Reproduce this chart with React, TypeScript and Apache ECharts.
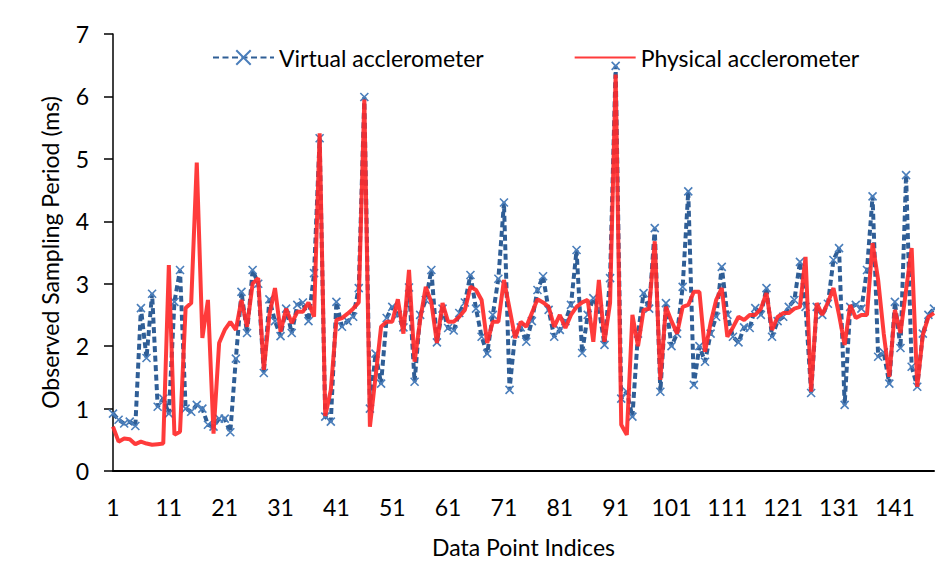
import React, { useEffect, useRef } from "react";
import * as echarts from "echarts";

const categories: string[] = Array.from({ length: 148 }, (_, i) => String(i + 1));

const virtualAccel: number[] = [
  0.92, 0.82, 0.76, 0.79, 0.72, 2.61, 1.81, 2.84, 1.03, 1.16,
  0.92, 2.71, 3.22, 1.0, 0.95, 1.06, 1.0, 0.74, 0.71, 0.84,
  0.84, 0.62, 1.8, 2.87, 2.21, 3.22, 3.0, 1.57, 2.75, 2.4,
  2.16, 2.6, 2.21, 2.66, 2.7, 2.4, 3.17, 5.33, 0.87, 0.79,
  2.71, 2.31, 2.4, 2.47, 2.93, 5.99, 1.0, 1.88, 1.4, 2.45,
  2.63, 2.5, 2.3, 2.94, 1.43, 2.5, 2.74, 3.22, 2.06, 2.6,
  2.29, 2.25, 2.53, 2.7, 3.14, 2.6, 2.15, 1.88, 2.5, 3.08,
  4.3, 1.3, 2.2, 2.3, 2.07, 2.4, 2.9, 3.12, 2.58, 2.15,
  2.26, 2.4, 2.66, 3.54, 1.89, 2.5, 2.77, 2.6, 2.02, 3.09,
  6.49, 1.16, 1.27, 0.87, 2.2, 2.85, 2.6, 3.89, 1.27, 2.69,
  2.0, 2.2, 2.95, 4.48, 1.38, 2.0, 1.75, 2.2, 2.47, 3.27,
  2.5, 2.15, 2.06, 2.3, 2.29, 2.61, 2.5, 2.93, 2.15, 2.4,
  2.47, 2.63, 2.74, 3.35, 2.63, 1.25, 2.63, 2.5, 2.68, 3.38,
  3.57, 1.06, 2.63, 2.66, 2.6, 3.22, 4.4, 1.83, 1.9, 1.4,
  2.71, 1.97, 4.74, 1.67, 1.35, 2.2, 2.5, 2.6,
];

const physicalAccel: number[] = [
  0.71, 0.47, 0.52, 0.51, 0.43, 0.47, 0.44, 0.42, 0.43, 0.44,
  3.3, 0.58, 0.63, 2.61, 2.69, 4.94, 2.13, 2.74, 0.6, 2.05,
  2.26, 2.39, 2.26, 2.74, 2.31, 3.0, 3.09, 1.62, 2.5, 2.93,
  2.23, 2.6, 2.37, 2.55, 2.55, 2.7, 2.47, 5.41, 0.88, 1.3,
  2.42, 2.45, 2.52, 2.6, 2.7, 5.95, 0.71, 1.5, 2.31, 2.39,
  2.39, 2.75, 2.2, 3.22, 1.75, 2.42, 2.95, 2.7, 2.05, 2.69,
  2.39, 2.39, 2.47, 2.58, 2.95, 2.9, 2.74, 2.05, 2.39, 2.39,
  3.06, 2.6, 2.13, 2.39, 2.31, 2.53, 2.75, 2.7, 2.63, 2.31,
  2.5, 2.29, 2.5, 2.63, 2.7, 2.74, 2.07, 3.06, 2.07, 2.69,
  6.35, 0.74, 0.58, 2.5, 2.0, 2.58, 2.6, 3.68, 1.46, 2.63,
  2.4, 2.2, 2.63, 2.66, 2.87, 2.87, 1.91, 2.37, 2.74, 2.93,
  2.15, 2.3, 2.47, 2.42, 2.5, 2.5, 2.6, 2.85, 2.26, 2.47,
  2.53, 2.53, 2.6, 2.63, 3.43, 1.27, 2.69, 2.5, 2.7, 2.93,
  2.5, 2.02, 2.66, 2.45, 2.5, 2.5, 3.65, 3.06, 2.2, 1.51,
  2.58, 2.21, 2.9, 3.57, 1.35, 2.18, 2.47, 2.53,
];

const seriesNames = ["Virtual acclerometer", "Physical acclerometer"];
const yTicks = { min: 0, max: 7, interval: 1 };

const FONT = "Lato, 'Liberation Sans', sans-serif";
const FS = 23;
const X_MARK = "path://M0,0L10,10M10,0L0,10";

export default function App() {
  const ref = useRef<HTMLDivElement>(null);
  useEffect(() => {
    if (!ref.current) return;
    const chart = echarts.init(ref.current, undefined, { renderer: "svg" });
    chart.setOption({
      animation: false,
      backgroundColor: "#ffffff",
      textStyle: { fontFamily: FONT },
      grid: { left: 113, right: 1, top: 34, bottom: 117, containLabel: false },
      legend: {
        left: 207,
        top: 41,
        itemWidth: 61,
        itemHeight: 18,
        itemGap: 90,
        textStyle: { fontFamily: FONT, fontSize: FS, color: "#000000" },
        data: [
          { name: seriesNames[0] },
          { name: seriesNames[1], itemStyle: { opacity: 0 } },
        ],
      },
      xAxis: {
        type: "category",
        data: categories,
        boundaryGap: false,
        name: "Data Point Indices",
        nameLocation: "middle",
        nameGap: 64,
        nameTextStyle: { fontFamily: FONT, fontSize: FS, color: "#000000" },
        axisLine: { lineStyle: { color: "#000000", width: 2 } },
        axisTick: { show: false },
        axisLabel: { interval: 9, fontFamily: FONT, fontSize: FS, color: "#000000", margin: 24 },
        splitLine: { show: false },
      },
      yAxis: {
        type: "value",
        min: yTicks.min,
        max: yTicks.max,
        interval: yTicks.interval,
        name: "Observed Sampling Period (ms)",
        nameLocation: "middle",
        nameGap: 52,
        nameTextStyle: { fontFamily: FONT, fontSize: FS, color: "#000000" },
        axisLine: { show: true, lineStyle: { color: "#000000", width: 1.5 } },
        axisTick: { show: true, length: 9, lineStyle: { color: "#000000", width: 1.5 } },
        axisLabel: { fontFamily: FONT, fontSize: FS, color: "#000000", margin: 24 },
        splitLine: { show: false },
      },
      series: [
        {
          name: seriesNames[0],
          type: "line",
          data: virtualAccel,
          symbol: X_MARK,
          symbolSize: 8,
          showSymbol: true,
          showAllSymbol: true,
          lineStyle: { color: "#2f5e96", width: 4, type: [6, 3.5] },
          itemStyle: { color: "#4a7ebb", borderColor: "#4a7ebb", borderWidth: 1.6 },
          z: 2,
        },
        {
          name: seriesNames[1],
          type: "line",
          data: physicalAccel,
          symbol: "none",
          lineStyle: { color: "#ff2a2a", width: 4, opacity: 0.92 },
          itemStyle: { color: "#ff2a2a" },
          z: 3,
        },
      ],
    });
    return () => chart.dispose();
  }, []);
  return (
    <div
      ref={ref}
      style={{ position: "fixed", left: 0, top: 0, width: 935, height: 588, background: "#fff" }}
    />
  );
}
